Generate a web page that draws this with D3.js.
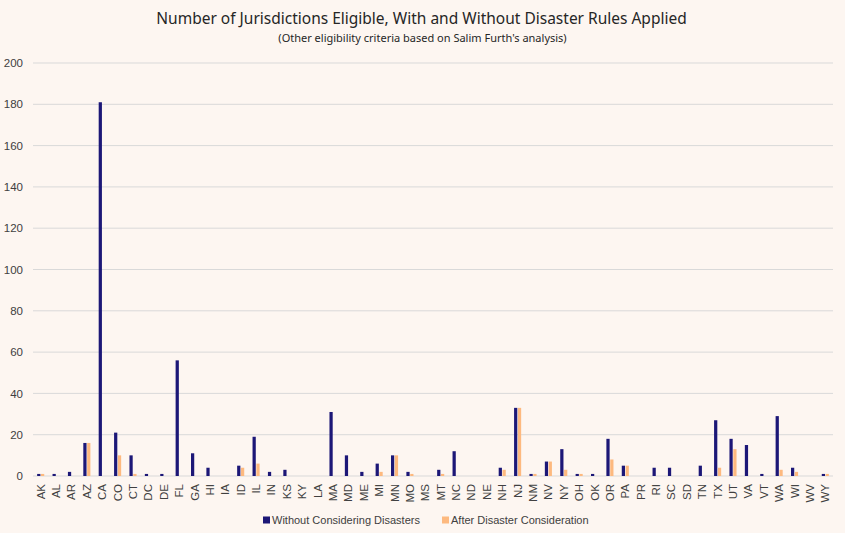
<!DOCTYPE html>
<html>
<head>
<meta charset="utf-8">
<script src="https://cdn.jsdelivr.net/npm/d3@7"></script>
<style>
  html, body { margin: 0; padding: 0; background: #fdf6f1; }
  #chart { width: 845px; height: 533px; }
  text { font-family: "Liberation Sans", Arial, sans-serif; }
</style>
</head>
<body>
<div id="chart"></div>
<script>
/* Eligible jurisdictions by state, before and after disaster rules. */
const states = ["AK", "AL", "AR", "AZ", "CA", "CO", "CT", "DC", "DE", "FL", "GA", "HI", "IA", "ID", "IL", "IN",
  "KS", "KY", "LA", "MA", "MD", "ME", "MI", "MN", "MO", "MS", "MT", "NC", "ND", "NE", "NH", "NJ", "NM", "NV",
  "NY", "OH", "OK", "OR", "PA", "PR", "RI", "SC", "SD", "TN", "TX", "UT", "VA", "VT", "WA", "WI", "WV", "WY"];
const withoutDisasters = [1, 1, 2, 16, 181, 21, 10, 1, 1, 56, 11, 4, 0, 5, 19, 2,
  3, 0, 0, 31, 10, 2, 6, 10, 2, 0, 3, 12, 0, 0, 4, 33, 1, 7,
  13, 1, 1, 18, 5, 0, 4, 4, 0, 5, 27, 18, 15, 1, 29, 4, 0, 1];
const afterDisasters = [1, 0, 0, 16, 0, 10, 1, 0, 0, 0, 0, 0, 0, 4, 6, 0,
  0, 0, 0, 0, 0, 0, 2, 10, 1, 0, 1, 0, 0, 0, 3, 33, 1, 7,
  3, 1, 0, 8, 5, 0, 0, 0, 0, 0, 4, 13, 0, 0, 3, 2, 0, 1];
const seriesNames = ["Without Considering Disasters", "After Disaster Consideration"];
const yTicks = [0, 20, 40, 60, 80, 100, 120, 140, 160, 180, 200];

const colors = ["#1c1777", "#fdb97f"];
const W = 845, Ht = 533;
const m = { t: 63, r: 12, b: 57, l: 33 };

const svg = d3.select("#chart").append("svg").attr("width", W).attr("height", Ht);

const x = d3.scaleBand().domain(states).range([m.l, W - m.r]).padding(0);
const y = d3.scaleLinear().domain([0, 200]).range([Ht - m.b, m.t]);

// gridlines
svg.append("g").selectAll("line").data(yTicks).join("line")
  .attr("x1", m.l).attr("x2", W - m.r)
  .attr("y1", d => y(d)).attr("y2", d => y(d))
  .attr("stroke", "#d9d9d9").attr("stroke-width", 1);

// y axis labels
const yAxis = svg.append("g").attr("transform", `translate(${m.l},0)`)
  .call(d3.axisLeft(y).tickValues(yTicks).tickSize(0).tickPadding(10));
yAxis.select(".domain").remove();
yAxis.selectAll("text").style("font-size", "11.5px").style("fill", "#404040");

// x axis labels
const xAxis = svg.append("g").attr("transform", `translate(0,${Ht - m.b})`)
  .call(d3.axisBottom(x).tickSize(0));
xAxis.select(".domain").remove();
xAxis.selectAll("text")
  .style("font-size", "11.5px").style("fill", "#404040")
  .attr("text-anchor", "end")
  .attr("dy", "0.35em")
  .attr("transform", "translate(0,8) rotate(-90)")
  .attr("x", 0).attr("y", 0);

// bars
const bw = x.bandwidth() * 0.21, gap = x.bandwidth() * 0.04;
const rows = states.map((s, i) => ({ s, vals: [withoutDisasters[i], afterDisasters[i]] }));
svg.append("g").selectAll("g").data(rows).join("g")
  .attr("transform", d => `translate(${x(d.s) + x.bandwidth() / 2},0)`)
  .selectAll("rect").data(d => d.vals).join("rect")
  .attr("x", (v, j) => j === 0 ? -bw - gap / 2 : gap / 2)
  .attr("width", bw)
  .attr("y", v => y(v))
  .attr("height", v => y(0) - y(v))
  .attr("fill", (v, j) => colors[j]);

// title
svg.append("text").attr("x", W / 2 - 1).attr("y", 24).attr("text-anchor", "middle")
  .style("font-family", "'Noto Sans', sans-serif").style("font-size", "15.5px").style("fill", "#262626")
  .text("Number of Jurisdictions Eligible, With and Without Disaster Rules Applied");
svg.append("text").attr("x", W / 2).attr("y", 42).attr("text-anchor", "middle")
  .style("font-family", "'Noto Sans', sans-serif").style("font-size", "11px").style("fill", "#262626")
  .text("(Other eligibility criteria based on Salim Furth's analysis)");

// legend
const lg = svg.append("g").attr("transform", `translate(263,520)`);
const lx = [0, 179];
seriesNames.forEach((n, i) => {
  lg.append("rect").attr("x", lx[i]).attr("y", -3.5).attr("width", 7).attr("height", 7).attr("fill", colors[i]);
  lg.append("text").attr("x", lx[i] + 9).attr("y", 0).attr("dy", "0.35em")
    .style("font-size", "11px").style("fill", "#404040").text(n);
});
</script>
</body>
</html>
